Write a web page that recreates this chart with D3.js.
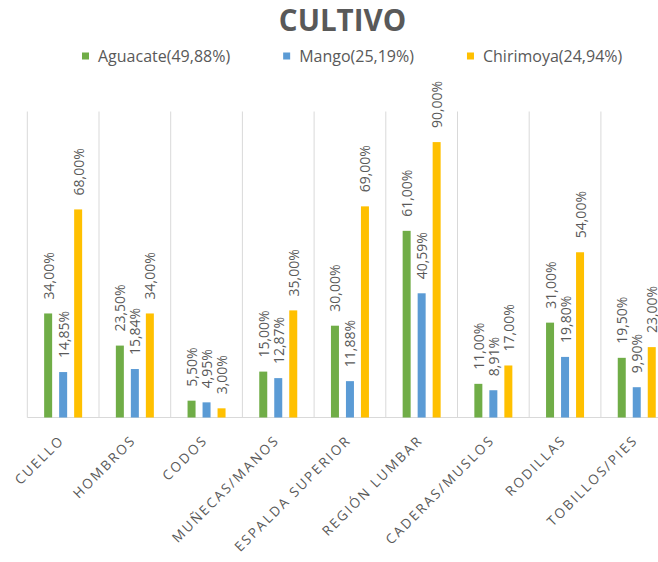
<!DOCTYPE html>
<html>
<head>
<meta charset="utf-8">
<script src="https://cdn.jsdelivr.net/npm/d3@7/dist/d3.min.js"></script>
<style>
  html, body { margin: 0; padding: 0; background: #ffffff; }
  svg { display: block; }
  text { font-family: "Open Sans", "Noto Sans", sans-serif; fill: #595959; }
</style>
</head>
<body>
<svg id="chart" width="658" height="562"></svg>
<script>
// Body regions surveyed
const categories = ["CUELLO", "HOMBROS", "CODOS", "MUÑECAS/MANOS", "ESPALDA SUPERIOR",
                    "REGIÓN LUMBAR", "CADERAS/MUSLOS", "RODILLAS", "TOBILLOS/PIES"];

// Series names as shown in the legend
const seriesNames = ["Aguacate(49,88%)", "Mango(25,19%)", "Chirimoya(24,94%)"];

// Percentage of workers per crop reporting each region
const aguacate  = [34.00, 23.50, 5.50, 15.00, 30.00, 61.00, 11.00, 31.00, 19.50];
const mango     = [14.85, 15.84, 4.95, 12.87, 11.88, 40.59, 8.91, 19.80, 9.90];
const chirimoya = [68.00, 34.00, 3.00, 35.00, 69.00, 90.00, 17.00, 54.00, 23.00];

const seriesColors = ["#70AD47", "#5B9BD5", "#FFC000"];

const seriesValues = [aguacate, mango, chirimoya];
const fmt = v => v.toFixed(2).replace(".", ",") + "%";

const svg = d3.select("#chart");

// Plot frame (the category band runs past the right edge of the canvas)
const plotLeft = 27.3, step = 71.7;
const plotTop = 111.5, plotBottom = 417.5;

const x0 = d3.scaleBand()
  .domain(categories)
  .range([plotLeft, plotLeft + step * categories.length])
  .padding(0);

const x1 = d3.scaleBand()
  .domain(d3.range(seriesNames.length))
  .range([-19, 19])
  .paddingInner(7 / 15)
  .paddingOuter(0);

const y = d3.scaleLinear().domain([0, 100]).range([plotBottom, plotTop]);

// Title
svg.append("text")
  .attr("x", 342.5).attr("y", 31)
  .attr("text-anchor", "middle")
  .style("font-size", "29.5px").style("font-weight", "700")
  .text("CULTIVO");

// Legend
const legend = svg.append("g");
let lx = 82;
seriesNames.forEach((name, i) => {
  const g = legend.append("g").attr("transform", `translate(${lx},0)`);
  g.append("rect").attr("x", 0).attr("y", 52.5).attr("width", 7).attr("height", 7)
    .attr("fill", seriesColors[i]);
  const t = g.append("text").attr("x", 16).attr("y", 61.5)
    .style("font-size", "16px").text(name);
  lx += 16 + t.node().getComputedTextLength() + 53;
});

// Category separators
const edges = categories.map(c => x0(c)).concat([x0.range()[1]]);
svg.append("g").selectAll("line").data(edges).join("line")
  .attr("x1", d => d).attr("x2", d => d)
  .attr("y1", plotTop).attr("y2", plotBottom)
  .attr("stroke", "#D9D9D9").attr("stroke-width", 1);

// Category axis line
svg.append("line")
  .attr("x1", x0.range()[0]).attr("x2", x0.range()[1])
  .attr("y1", plotBottom).attr("y2", plotBottom)
  .attr("stroke", "#D9D9D9").attr("stroke-width", 1);

// Bars and value labels
const rows = [];
categories.forEach((c, ci) => {
  seriesValues.forEach((vals, si) => rows.push({ c, si, v: vals[ci] }));
});

const cx = d => x0(d.c) + x0.bandwidth() / 2 + x1(d.si);

svg.append("g").selectAll("rect").data(rows).join("rect")
  .attr("x", d => cx(d))
  .attr("y", d => y(d.v))
  .attr("width", x1.bandwidth())
  .attr("height", d => plotBottom - y(d.v))
  .attr("fill", d => seriesColors[d.si]);

svg.append("g").selectAll("text").data(rows).join("text")
  .attr("transform", d => `translate(${cx(d) + x1.bandwidth() / 2 + 5.5},${y(d.v) - 14}) rotate(-90)`)
  .attr("text-anchor", "start")
  .style("font-size", "14px")
  .text(d => fmt(d.v));

// Category labels
svg.append("g").selectAll("text").data(categories).join("text")
  .attr("transform", d => `translate(${x0(d) + x0.bandwidth() / 2 + 2},441) rotate(-45)`)
  .attr("text-anchor", "end")
  .style("font-size", "13.5px")
  .style("letter-spacing", "2.1px")
  .text(d => d);
</script>
</body>
</html>
